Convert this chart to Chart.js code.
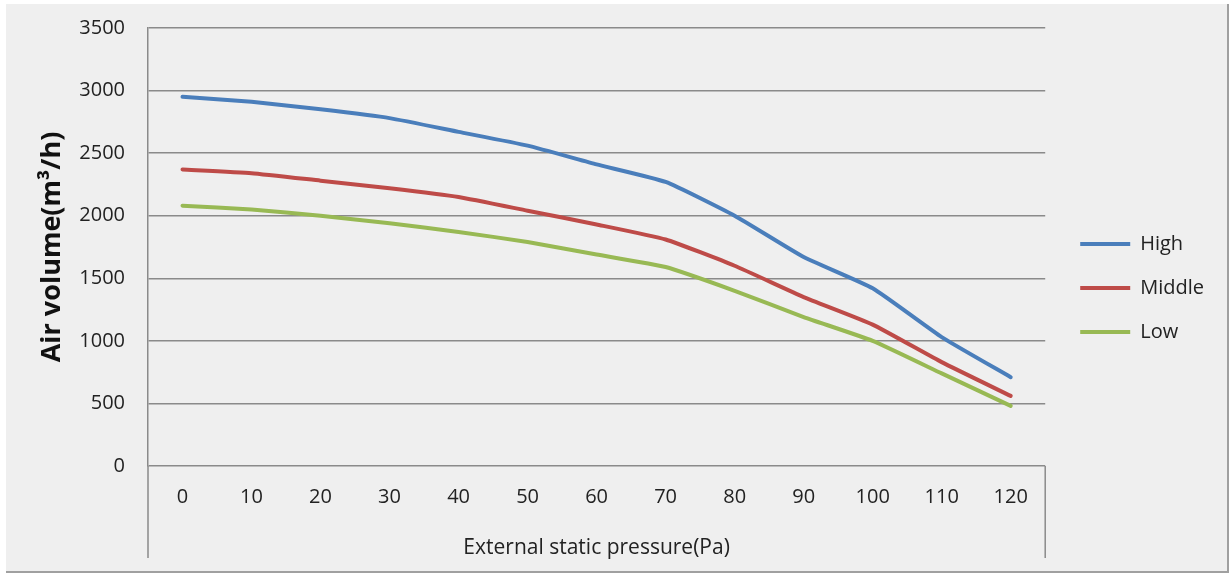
<!DOCTYPE html>
<html>
<head>
<meta charset="utf-8">
<script src="https://cdn.jsdelivr.net/npm/chart.js@4/dist/chart.umd.min.js"></script>
<style>
  html, body { margin: 0; padding: 0; background: #ffffff; }
  #wrap { position: relative; width: 1230px; height: 574px; }
</style>
</head>
<body>
<div id="wrap"><canvas id="myChart" width="1230" height="574"></canvas></div>
<script>
// pressure steps (Pa)
const pressures = ["0", "10", "20", "30", "40", "50", "60", "70", "80", "90", "100", "110", "120"];
// air volume (m³/h) per fan speed
const high = [2950, 2910, 2850, 2780, 2670, 2560, 2410, 2270, 2000, 1670, 1420, 1030, 710];
const middle = [2370, 2340, 2280, 2220, 2150, 2040, 1930, 1810, 1600, 1350, 1130, 830, 560];
const low = [2080, 2050, 2000, 1940, 1870, 1790, 1690, 1590, 1400, 1190, 1000, 740, 480];

const FONT = "'Open Sans', 'DejaVu Sans', sans-serif";
const GRID = "#8a8a8a";
const TEXT = "#222";

// page background + the label box under the plot
const frame = {
  id: "frame",
  beforeDraw(chart) {
    const ctx = chart.ctx;
    ctx.save();
    ctx.fillStyle = "#efefef";
    ctx.fillRect(6, 4, 1222, 568);
    ctx.fillStyle = "#a0a0a0";
    ctx.fillRect(1227, 4, 2, 568);
    ctx.fillRect(6, 571, 1223, 2);
    ctx.restore();
  },
  afterDraw(chart) {
    const a = chart.chartArea;
    const ctx = chart.ctx;
    ctx.save();
    ctx.strokeStyle = GRID;
    ctx.lineWidth = 1.5;
    ctx.beginPath();
    ctx.moveTo(a.left, a.bottom);
    ctx.lineTo(a.left, a.bottom + 92);
    ctx.moveTo(a.right, a.bottom);
    ctx.lineTo(a.right, a.bottom + 92);
    ctx.stroke();
    ctx.restore();
  }
};

const ctx = document.getElementById("myChart").getContext("2d");
new Chart(ctx, {
  type: "line",
  data: {
    labels: pressures,
    datasets: [
      { label: "High", data: high, borderColor: "#4a7ebb", backgroundColor: "#4a7ebb", borderWidth: 4 },
      { label: "Middle", data: middle, borderColor: "#be4b48", backgroundColor: "#be4b48", borderWidth: 4 },
      { label: "Low", data: low, borderColor: "#98b954", backgroundColor: "#98b954", borderWidth: 4 }
    ]
  },
  options: {
    responsive: false,
    animation: false,
    layout: { padding: { top: 28, right: 16, bottom: 26, left: 0 } },
    elements: {
      line: { tension: 0.15, borderCapStyle: "round", borderJoinStyle: "round" },
      point: { radius: 0 }
    },
    plugins: {
      tooltip: { enabled: false },
      legend: {
        position: "right",
        labels: {
          font: { family: FONT, size: 20 },
          color: TEXT,
          usePointStyle: true,
          pointStyle: "line",
          pointStyleWidth: 50,
          padding: 24
        }
      }
    },
    scales: {
      x: {
        offset: true,
        grid: { display: false, drawTicks: false },
        border: { display: false },
        ticks: { font: { family: FONT, size: 20 }, color: TEXT, padding: 19, maxRotation: 0 },
        title: {
          display: true,
          text: "External static pressure(Pa)",
          font: { family: FONT, size: 21 },
          color: TEXT,
          padding: { top: 0, bottom: -13 }
        },
        afterFit(scale) { scale.height = 82; }
      },
      y: {
        min: 0,
        max: 3500,
        ticks: {
          stepSize: 500,
          // small lineHeight keeps the label overhang from pushing the plot down
          font: { family: FONT, size: 20, lineHeight: 0.2 },
          color: TEXT,
          padding: 23,
          callback: (v) => String(v)
        },
        grid: { color: GRID, lineWidth: 1.5, drawTicks: false },
        border: { color: GRID, width: 1.5 },
        title: {
          display: true,
          text: "Air volume(m³/h)",
          font: { family: FONT, size: 27, weight: "bold" },
          color: "#111",
          padding: { top: 36, bottom: 0 }
        },
        afterFit(scale) { scale.width = 148; }
      },
      // empty spacer between plot and legend
      gap: {
        position: "right",
        display: true,
        ticks: { display: false },
        grid: { display: false },
        border: { display: false },
        afterFit(scale) { scale.width = 11; }
      }
    }
  },
  plugins: [frame]
});
</script>
</body>
</html>
